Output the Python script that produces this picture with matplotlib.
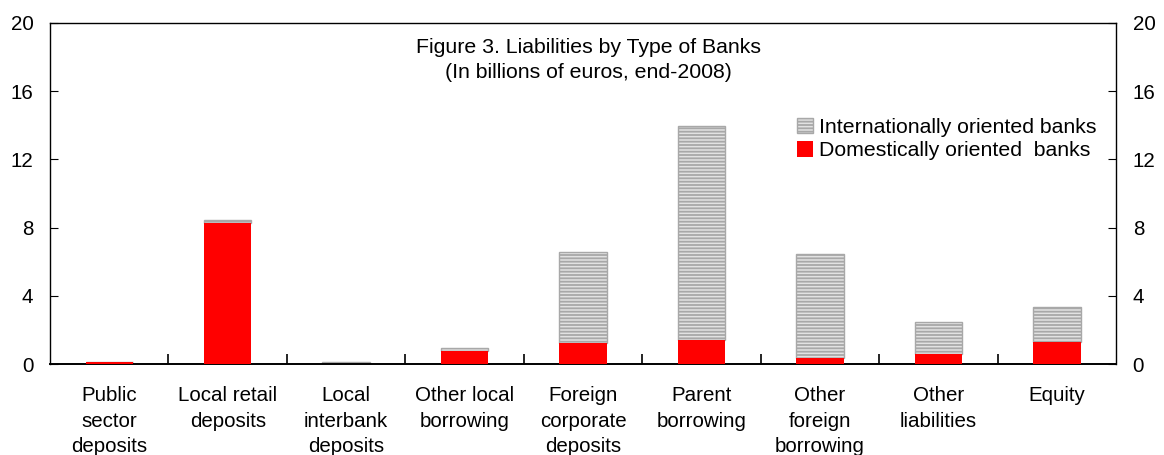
import numpy as np
import matplotlib.pyplot as plt

plt.rcParams['font.family'] = ['Liberation Sans', 'DejaVu Sans']
plt.rcParams['hatch.color'] = '#979797'
plt.rcParams['hatch.linewidth'] = 1.3

categories = ["Public\nsector\ndeposits", "Local retail\ndeposits", "Local\ninterbank\ndeposits",
              "Other local\nborrowing", "Foreign\ncorporate\ndeposits", "Parent\nborrowing",
              "Other\nforeign\nborrowing", "Other\nliabilities", "Equity"]
domestic = [0.12, 8.25, 0.0, 0.75, 1.25, 1.40, 0.35, 0.57, 1.30]
international = [0.0, 0.20, 0.10, 0.20, 5.30, 12.55, 6.10, 1.90, 2.05]

fig = plt.figure(figsize=(11.64, 4.55), dpi=100)
ax = fig.add_axes([0.043, 0.2, 0.9158, 0.7495])

x = np.arange(len(categories))
ax.bar(x, international, width=0.4, bottom=domestic, color='#e2e2e2', edgecolor='#a8a8a8',
       linewidth=1.0, hatch='-----', label='Internationally oriented banks', zorder=2)
ax.bar(x, domestic, width=0.4, color='#ff0000', edgecolor='#ff0000', linewidth=0,
       label='Domestically oriented  banks', zorder=3)

ax.set_xlim(-0.5, len(categories) - 0.5)
ax.set_ylim(0, 20)
ax.set_yticks(np.arange(0, 21, 4))
ax.tick_params(axis='y', direction='in', labelsize=14.8, left=True, right=True,
               labelleft=True, labelright=True, length=6, pad=12)
ax.set_xticks(x[:-1] + 0.5, minor=True)
ax.set_xticks(x)
ax.set_xticklabels(categories, fontsize=14.8, linespacing=1.42, va='top')
ax.tick_params(axis='x', which='major', length=0, pad=16)
ax.tick_params(axis='x', which='minor', direction='in', length=7, width=1.2)
for s in ax.spines.values():
    s.set_linewidth(1.0)
ax.spines['bottom'].set_linewidth(1.4)

ax.text(0.505, 0.955, "Figure 3. Liabilities by Type of Banks\n(In billions of euros, end-2008)",
        transform=ax.transAxes, ha='center', va='top', fontsize=15.3, linespacing=1.4)

handles, labels = ax.get_legend_handles_labels()
ax.legend(handles, labels, loc='upper right', bbox_to_anchor=(0.994, 0.76),
          frameon=False, fontsize=15.3, handlelength=0.75, handleheight=0.75,
          handletextpad=0.3, labelspacing=0.2, borderaxespad=0.2)

fig.savefig('out.png', dpi=100)
